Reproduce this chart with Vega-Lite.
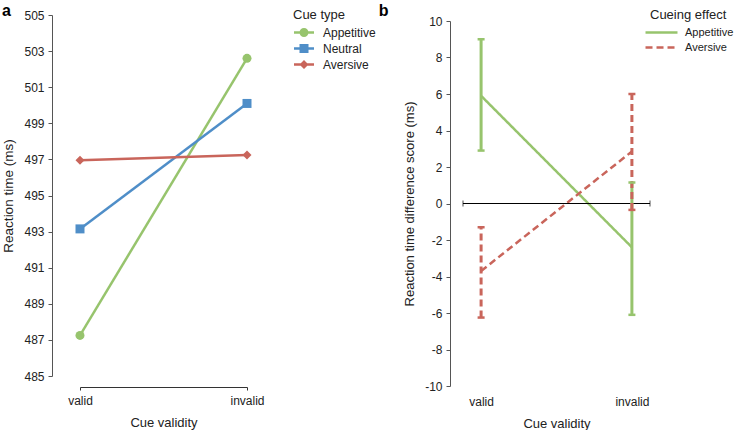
{
  "$schema": "https://vega.github.io/schema/vega-lite/v6.json",
  "padding": {"left": 1, "top": 2, "right": 0, "bottom": 0},
  "config": {
    "font": "Liberation Sans",
    "view": {"stroke": null},
    "axis": {
      "labelFontSize": 12, "labelColor": "#222", "titleFontSize": 13, "titleFontWeight": "normal",
      "titleColor": "#222", "domainColor": "#555", "tickColor": "#555", "grid": false
    },
    "legend": {"titleFontSize": 13, "titleFontWeight": "normal", "titleColor": "#222", "labelFontSize": 12, "labelColor": "#222"},
    "title": {"fontSize": 16, "fontWeight": "bold", "color": "#000", "anchor": "start", "frame": "bounds"}
  },
  "hconcat": [
    {
      "width": 167,
      "height": 361,
      "title": {"text": "a", "offset": -10},
      "data": {"values": [
        {"cue": "Appetitive", "validity": "valid", "rt": 487.25},
        {"cue": "Appetitive", "validity": "invalid", "rt": 502.6},
        {"cue": "Neutral", "validity": "valid", "rt": 493.15},
        {"cue": "Neutral", "validity": "invalid", "rt": 500.1},
        {"cue": "Aversive", "validity": "valid", "rt": 496.95},
        {"cue": "Aversive", "validity": "invalid", "rt": 497.25}
      ]},
      "encoding": {
        "x": {"field": "validity", "type": "nominal", "sort": ["valid", "invalid"],
              "scale": {"type": "point", "padding": 0},
              "axis": {"title": "Cue validity", "labelAngle": 0, "offset": 11, "tickSize": 3, "labelPadding": 5, "titlePadding": 10, "domainColor": "#333", "tickColor": "#333"}},
        "y": {"field": "rt", "type": "quantitative",
              "scale": {"domain": [485, 505], "nice": false, "zero": false},
              "axis": {"title": "Reaction time (ms)", "titleFontSize": 13.5, "values": [485, 487, 489, 491, 493, 495, 497, 499, 501, 503, 505], "offset": 28, "tickSize": 4, "labelPadding": 4, "titlePadding": 8}}
      },
      "layer": [
        {"mark": {"type": "point", "filled": true, "opacity": 0},
         "encoding": {
           "color": {"field": "cue", "type": "nominal",
                     "scale": {"domain": ["Appetitive", "Neutral", "Aversive"], "range": ["#97c46d", "#4f8ec8", "#c9655b"]},
                     "legend": {"title": "Cue type", "orient": "none", "legendX": 213, "legendY": -6.5,
                                "symbolSize": 100, "symbolOpacity": 1, "symbolStrokeWidth": 0, "labelOffset": 18, "rowPadding": 4, "titlePadding": 5}},
           "shape": {"field": "cue", "type": "nominal",
                     "scale": {"domain": ["Appetitive", "Neutral", "Aversive"],
                               "range": ["M-1,-0.25H3V0.25H-1Z M0.1,0A0.9,0.9 0 1 1 1.9,0A0.9,0.9 0 1 1 0.1,0Z",
                                         "M-1,-0.25H3V0.25H-1Z M0.1,-0.9H1.9V0.9H0.1Z",
                                         "M-1,-0.25H3V0.25H-1Z M1,-0.9L1.9,0L1,0.9L0.1,0Z"]},
                     "legend": {"title": "Cue type", "orient": "none", "legendX": 213, "legendY": -6.5,
                                "symbolSize": 100, "symbolOpacity": 1, "symbolStrokeWidth": 0, "labelOffset": 18, "rowPadding": 4, "titlePadding": 5}}
         }},
        {"mark": {"type": "line", "strokeWidth": 2.5},
         "encoding": {
           "stroke": {"field": "cue", "type": "nominal",
                      "scale": {"domain": ["Appetitive", "Neutral", "Aversive"], "range": ["#97c46d", "#4f8ec8", "#c9655b"]},
                      "legend": null}
         }},
        {"transform": [{"filter": "datum.cue === 'Appetitive'"}],
         "mark": {"type": "point", "shape": "circle", "filled": true, "size": 81, "opacity": 1},
         "encoding": {"fill": {"field": "cue", "type": "nominal", "scale": {"domain": ["Appetitive", "Neutral", "Aversive"], "range": ["#97c46d", "#4f8ec8", "#c9655b"]}, "legend": null}}},
        {"transform": [{"filter": "datum.cue === 'Neutral'"}],
         "mark": {"type": "point", "shape": "square", "filled": true, "size": 81, "opacity": 1},
         "encoding": {"fill": {"field": "cue", "type": "nominal", "scale": {"domain": ["Appetitive", "Neutral", "Aversive"], "range": ["#97c46d", "#4f8ec8", "#c9655b"]}, "legend": null}}},
        {"transform": [{"filter": "datum.cue === 'Aversive'"}],
         "mark": {"type": "point", "shape": "diamond", "filled": true, "size": 81, "opacity": 1},
         "encoding": {"fill": {"field": "cue", "type": "nominal", "scale": {"domain": ["Appetitive", "Neutral", "Aversive"], "range": ["#97c46d", "#4f8ec8", "#c9655b"]}, "legend": null}}}
      ]
    },
    {
      "width": 187,
      "height": 371,
      "title": {"text": "b", "offset": -10, "dx": -25},
      "data": {"values": [
        {"effect": "Appetitive", "validity": "valid", "vi": 1, "mean": 5.9, "lo": 2.9, "hi": 9.0},
        {"effect": "Appetitive", "validity": "invalid", "vi": 2, "mean": -2.4, "lo": -6.1, "hi": 1.15},
        {"effect": "Aversive", "validity": "valid", "vi": 1, "mean": -3.7, "lo": -6.25, "hi": -1.3},
        {"effect": "Aversive", "validity": "invalid", "vi": 2, "mean": 2.85, "lo": -0.35, "hi": 6.0}
      ]},
      "encoding": {
        "x": {"field": "vi", "type": "quantitative",
              "scale": {"domain": [0.88, 2.12], "nice": false, "zero": false},
              "axis": {"title": "Cue validity", "values": [1, 2], "labelExpr": "datum.value == 1 ? 'valid' : 'invalid'", "domain": false, "ticks": false, "offset": 6, "labelPadding": 4, "titlePadding": 10}},
        "y": {"type": "quantitative", "scale": {"domain": [-10, 10], "nice": false, "range": [371, 6]},
              "axis": {"title": "Reaction time difference score (ms)", "values": [-10, -8, -6, -4, -2, 0, 2, 4, 6, 8, 10], "labelExpr": "toString(datum.value)", "offset": 13, "tickSize": 4, "labelPadding": 4, "titlePadding": 8}}
      },
      "layer": [
        {"mark": {"type": "line", "strokeWidth": 2.5},
         "encoding": {"y": {"field": "mean"},
                      "color": {"field": "effect", "type": "nominal",
                                "scale": {"domain": ["Appetitive", "Aversive"], "range": ["#97c46d", "#c9655b"]},
                                "legend": {"title": "Cueing effect", "orient": "none", "legendX": 187, "legendY": -6, "symbolType": "M-3.33,0H7.33", "symbolSize": 36, "symbolStrokeWidth": 2.5, "labelOffset": 24, "labelFontSize": 11, "rowPadding": 3, "titlePadding": 5}},
                      "strokeDash": {"field": "effect", "type": "nominal",
                                     "scale": {"domain": ["Appetitive", "Aversive"], "range": [[1, 0], [7, 4]]},
                                     "legend": {"title": "Cueing effect", "orient": "none", "legendX": 187, "legendY": -6, "symbolType": "M-3.33,0H7.33", "symbolSize": 36, "symbolStrokeWidth": 2.5, "labelOffset": 24, "labelFontSize": 11, "rowPadding": 3, "titlePadding": 5}}}},
        {"mark": {"type": "rule", "color": "#000", "strokeWidth": 1}, "encoding": {"x": null, "y": {"datum": 0}}},
        {"data": {"values": [{"end": 0.88}, {"end": 2.12}]},
         "mark": {"type": "tick", "orient": "vertical", "color": "#000", "size": 6, "thickness": 1},
         "encoding": {"x": {"field": "end", "type": "quantitative"}, "y": {"datum": 0}}},
        {"mark": {"type": "rule", "strokeWidth": 3},
         "encoding": {"y": {"field": "lo"}, "y2": {"field": "hi"},
                      "stroke": {"field": "effect", "type": "nominal", "scale": {"domain": ["Appetitive", "Aversive"], "range": ["#97c46d", "#c9655b"]}, "legend": null},
                      "strokeDash": {"field": "effect", "type": "nominal"}}},
        {"mark": {"type": "tick", "orient": "horizontal", "size": 7, "thickness": 2.5, "opacity": 1},
         "encoding": {"y": {"field": "lo"}, "fill": {"field": "effect", "type": "nominal", "scale": {"domain": ["Appetitive", "Aversive"], "range": ["#97c46d", "#c9655b"]}, "legend": null}}},
        {"mark": {"type": "tick", "orient": "horizontal", "size": 7, "thickness": 2.5, "opacity": 1},
         "encoding": {"y": {"field": "hi"}, "fill": {"field": "effect", "type": "nominal", "scale": {"domain": ["Appetitive", "Aversive"], "range": ["#97c46d", "#c9655b"]}, "legend": null}}}
      ]
    }
  ],
  "spacing": 2,
  "resolve": {"scale": {"color": "independent", "shape": "independent", "strokeDash": "independent", "stroke": "independent", "fill": "independent", "x": "independent", "y": "independent"},
              "legend": {"color": "independent", "shape": "independent", "strokeDash": "independent", "stroke": "independent", "fill": "independent"}}
}
